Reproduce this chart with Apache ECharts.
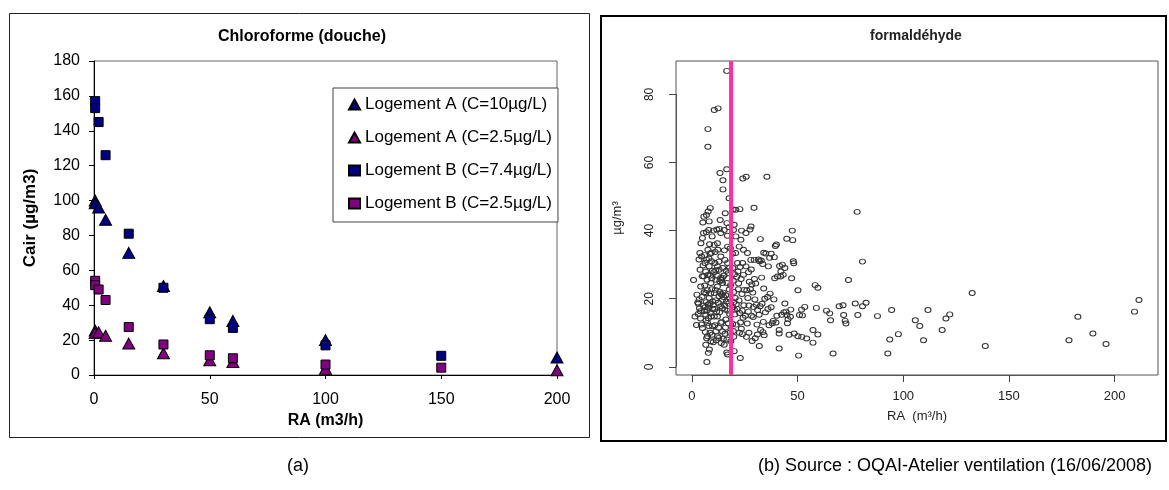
<!DOCTYPE html>
<html>
<head>
<meta charset="utf-8">
<script src="https://cdn.jsdelivr.net/npm/echarts@6/dist/echarts.min.js"></script>
<style>
  html, body { margin: 0; background: #fff; }
  #chart { width: 1169px; height: 490px; }
</style>
</head>
<body>
<div id="chart"></div>
<script>
// (a) Chloroforme (douche) : RA (m3/h) vs Cair (µg/m3)
var logementA10 = [[0.5, 100], [0.5, 98.5], [2, 96], [5, 89], [15, 70], [30, 51], [50, 36], [60, 31], [100, 20], [200, 10]];
var logementA25 = [[0.5, 25.5], [0.5, 24], [2, 24.5], [5, 22.5], [15, 18], [30, 12.5], [50, 8.5], [60, 7.5], [100, 3.5], [200, 2.7]];
var logementB74 = [[0.5, 157], [0.5, 153], [2, 145], [5, 126], [15, 81], [30, 50], [50, 32], [60, 27], [100, 17], [150, 11]];
var logementB25 = [[0.5, 54], [0.5, 51.5], [2, 49], [5, 43], [15, 27.5], [30, 17.5], [50, 11.3], [60, 9.6], [100, 6], [150, 4.2]];
var legendNames = ["Logement A (C=10µg/L)", "Logement A (C=2.5µg/L)", "Logement B (C=7.4µg/L)", "Logement B (C=2.5µg/L)"];

// (b) formaldéhyde : RA (m3/h) vs µg/m3
var formX0to5 = [[0.8,25.5],[1.5,14.8],[2.2,12.3],[2.4,21.2],[3.1,18.5],[3.5,19.8],[3.4,31.5],[3.8,33.4],[3.9,28.5],[4.2,23.6],[4.3,36.3],[4.6,32.4],[4.9,26.6],[5.0,37.8],[5.2,42.4],[5.5,39.3],[5.7,44.1],[4.0,16.3],[4.5,12.4],[5.0,11.4],[3.6,17.2],[4.8,20.5],[2.8,18.9],[3.0,15.5],[4.1,14.2],[5.3,29.8],[5.6,26.6],[5.4,18.0],[5.8,21.9],[5.9,16.4]];
var formX6to10 = [[6.2,30.5],[6.5,28.0],[6.6,21.7],[6.6,15.3],[6.6,6.5],[6.9,44.6],[7.0,31.4],[7.1,1.4],[7.2,25.6],[7.4,12.9],[7.4,9.0],[7.6,34.4],[7.7,18.3],[7.7,45.6],[7.8,4.1],[8.0,40.2],[8.2,42.7],[8.2,20.2],[8.2,29.5],[8.3,5.1],[8.7,33.2],[8.7,15.8],[8.7,46.6],[9.0,24.6],[9.0,7.5],[9.3,31.0],[9.8,19.2],[9.8,11.9],[9.6,38.3],[9.9,17.0],[6.3,17.5],[6.8,19.0],[7.3,16.6],[7.9,17.4],[8.5,18.6],[8.9,21.5],[9.4,22.8],[6.1,23.9],[7.5,27.0],[8.1,31.8],[9.2,33.5],[6.4,10.2],[7.0,8.4],[8.6,10.0],[9.5,9.4],[6.7,13.6],[7.8,14.3],[9.1,14.8],[6.0,32.8],[8.4,36.0],[9.7,28.2],[6.9,39.5],[7.3,22.5],[8.8,26.8],[9.4,26.0],[8.0,12.0],[7.6,69.8],[7.6,64.6]];
var formX10to18 = [[10.6,35.8],[10.6,21.7],[10.6,14.8],[10.9,30.5],[11.4,25.6],[11.4,10.4],[11.8,40.3],[12.1,29.5],[12.1,23.6],[12.1,14.8],[12.1,9.0],[12.1,36.3],[12.9,28.5],[12.9,20.7],[13.4,43.1],[13.7,26.1],[13.7,17.8],[13.7,12.9],[13.7,32.4],[13.7,39.3],[14.5,24.6],[14.5,19.7],[14.5,10.4],[14.5,26.2],[10.2,18.2],[10.8,17.0],[11.2,19.5],[11.7,16.2],[12.5,18.8],[13.1,16.0],[13.6,21.5],[14.2,21.2],[14.8,21.8],[10.4,27.8],[11.0,33.7],[12.3,34.4],[13.2,25.1],[14.0,25.5],[10.1,7.2],[11.5,7.8],[12.7,8.5],[13.9,7.0],[14.9,8.2],[10.9,12.2],[12.6,11.5],[14.1,13.2],[11.3,28.3],[12.8,30.9],[14.6,29.0],[13.0,40.5],[10.3,40.0],[11.1,22.6],[13.3,22.0],[14.4,17.2],[12.2,26.7],
  [15.3,40.2],[15.3,6.5],[15.6,31.4],[15.6,16.8],[15.8,45.1],[16.1,13.9],[16.6,42.2],[16.6,8.0],[16.6,24.6],[16.9,35.3],[16.9,30.5],[16.9,3.6],[17.2,27.5],[17.7,22.7],[15.0,20.5],[15.5,18.0],[16.0,21.0],[16.4,19.2],[17.0,16.5],[17.5,18.6],[18.0,20.0],[15.2,26.8],[16.3,28.2],[17.8,29.0],[18.2,34.8],[15.9,11.5],[17.3,12.8],[18.1,10.0],[17.6,41.0],[15.4,34.2],[16.8,38.5],[18.3,24.0],[17.9,15.5],[15.7,9.7],[16.5,4.2],[18.4,7.5],
  [16.5,86.9],[10.6,75.4],[12.4,75.9],[16.5,58.0],[13.3,56.9],[14.7,54.8],[14.7,52.1],[17.6,49.5]];
var formX18to35 = [[19.5,46.2],[19.7,40.2],[20.0,41.7],[20.0,4.6],[20.8,38.3],[20.8,46.1],[21.6,30.5],[22.4,35.3],[22.7,46.3],[22.9,2.6],[23.2,37.3],[23.5,40.0],[24.0,30.5],[24.4,34.4],[24.4,27.0],[24.1,55.3],[19.2,33.2],[19.4,29.0],[19.6,25.3],[19.8,22.0],[19.9,19.0],[20.1,16.8],[20.3,15.4],[19.3,12.6],[19.6,10.5],[19.8,8.8],[20.5,20.2],[21.0,18.4],[21.5,17.0],[22.0,22.8],[22.3,19.5],[22.6,15.8],[23.0,13.0],[23.4,11.2],[23.9,9.6],[21.2,26.4],[21.8,28.0],[22.1,24.5],[23.3,25.8],[23.7,21.4],[24.6,18.1],[24.8,22.6],[21.0,12.4],[22.5,10.0],[20.7,33.4],[23.8,16.5],[24.2,14.4],[20.2,27.2],[19.4,17.5],[22.8,29.3],
  [25.6,39.3],[25.6,29.5],[25.7,55.8],[26.3,33.4],[27.9,31.4],[29.5,31.4],[29.4,46.7],[27.5,40.3],[28.0,41.2],[26.8,27.8],[27.2,25.0],[28.1,28.6],[26.0,22.5],[26.5,20.2],[27.0,18.0],[28.4,24.2],[28.8,21.8],[29.2,17.6],[29.8,19.8],[30.5,18.2],[31.1,16.7],[31.8,15.3],[32.3,17.8],[30.2,24.5],[31.5,31.5],[32.0,31.0],[32.8,31.2],[33.5,30.2],[33.0,26.2],[34.0,23.0],[34.5,20.0],[34.8,16.0],[33.8,13.2],[32.5,10.8],[31.0,9.5],[30.0,8.4],[28.5,7.6],[27.0,10.0],[26.2,12.7],[25.3,15.0],[25.8,8.8],[31.9,6.1],[32.4,37.5],[29.0,14.6],[30.8,12.4],[33.6,10.2],[34.2,9.3],[26.7,16.2],[28.2,15.0],[29.6,25.8],[34.0,33.5],[35.0,33.3],[33.2,18.5],[27.7,22.8]];
var formX35to50 = [[35.5,55.8],[36.2,29.5],[36.8,32.0],[37.0,21.5],[37.5,17.5],[38.0,12.8],[38.5,13.5],[37.5,33.2],[39.5,35.5],[40.0,35.9],[39.0,32.2],[39.2,26.0],[40.5,26.5],[41.5,29.6],[42.1,28.0],[42.8,30.0],[43.2,27.0],[44.0,29.0],[42.0,26.5],[41.3,10.8],[41.3,9.8],[41.3,5.4],[44.0,18.6],[44.5,16.2],[45.0,15.2],[45.5,14.0],[45.2,12.8],[46.6,14.7],[44.9,37.6],[47.5,40.0],[47.7,37.2],[48.0,31.0],[48.2,30.4],[47.2,26.0],[48.4,9.8],[36.0,17.0],[38.8,19.8],[40.2,15.0],[42.5,15.3],[46.0,9.4],[35.8,20.5],[43.5,16.0],[46.8,16.8],[39.8,13.0],[36.5,12.2]];
var formX50plus = [[50.2,22.5],[58.3,24.0],[59.6,23.2],[50.9,15.2],[52.3,15.1],[53.4,17.6],[51.9,16.8],[58.9,17.3],[57.3,10.8],[59.6,9.5],[57.3,7.1],[54.3,8.3],[50.2,9.0],[52.0,8.8],[50.5,3.3],[63.7,16.5],[65.2,15.7],[65.6,13.7],[66.8,3.9],[69.7,17.8],[71.5,18.1],[71.8,15.2],[72.5,13.5],[72.9,12.7],[74.1,25.5],[77.3,18.6],[78.2,45.5],[78.5,15.2],[80.7,30.9],[80.7,17.8],[82.4,18.8],[87.8,14.9],[92.7,3.9],[93.6,8.0],[94.5,16.7],[97.7,9.6],[105.7,13.7],[107.8,12.0],[109.6,7.8],[111.7,16.7],[118.4,10.8],[120.2,14.2],[122.0,15.4],[132.6,21.7],[138.8,6.1],[178.4,7.8],[182.6,14.7],[189.7,9.8],[195.9,6.7],[209.4,16.2],[211.5,19.6]];
var formaldehyde = formX0to5.concat(formX6to10, formX10to18, formX18to35, formX35to50, formX50plus);
var seuilRA = 18.3;
// R-style axis: data range padded by 4%, ticks only at the rounded values
var formRangeX = [-7.5, 220.5];
var formRangeY = [-2.4, 89.8];
var formTicksX = [0, 200];   // first/last tick, step 50
var formTicksY = [0, 80];    // first/last tick, step 20

var FONT = "Liberation Sans, Arial, sans-serif";
var W = 1169, H = 490;
var plotB = { left: 676, right: 11, top: 61, bottom: 115 };

var chart = echarts.init(document.getElementById("chart"));
chart.setOption({
  animation: false,
  backgroundColor: "#fff",
  textStyle: { fontFamily: FONT },
  graphic: [
    { type: "rect", shape: { x: 9.5, y: 13.5, width: 580, height: 424 }, style: { fill: "none", stroke: "#222", lineWidth: 1 } },
    { type: "rect", shape: { x: 601, y: 16, width: 565, height: 425 }, style: { fill: "none", stroke: "#000", lineWidth: 2 } },
  ],
  title: [
    { text: "Chloroforme (douche)", left: 302, top: 29, padding: 0, textAlign: "center",
      textStyle: { fontFamily: FONT, fontSize: 16, fontWeight: "bold", color: "#000" } },
    { text: "formaldéhyde", left: 916, top: 29, padding: 0, textAlign: "center",
      textStyle: { fontFamily: FONT, fontSize: 14, fontWeight: "bold", color: "#222" } },
    { text: "(a)", left: 298, top: 457, padding: 0, textAlign: "center",
      textStyle: { fontFamily: FONT, fontSize: 18, fontWeight: "normal", color: "#000" } },
    { text: "(b) Source : OQAI-Atelier ventilation (16/06/2008)", left: 955, top: 457, padding: 0, textAlign: "center",
      textStyle: { fontFamily: FONT, fontSize: 18, fontWeight: "normal", color: "#000" } },
  ],
  legend: {
    data: legendNames,
    orient: "vertical",
    left: 333, top: 88,
    padding: [8, 6, 10, 15],
    itemGap: 16,
    itemWidth: 11, itemHeight: 10,
    backgroundColor: "#fff",
    borderColor: "#444", borderWidth: 1,
    textStyle: { fontFamily: FONT, fontSize: 17, color: "#000" },
  },
  grid: [
    { left: 94, right: 612, top: 61, bottom: 115, show: true, borderColor: "#666", borderWidth: 1, backgroundColor: "transparent" },
    { left: plotB.left, right: plotB.right, top: plotB.top, bottom: plotB.bottom, show: true, borderColor: "#555", borderWidth: 1, backgroundColor: "transparent" },
  ],
  xAxis: [
    { gridIndex: 0, type: "value", min: 0, max: 200, interval: 50,
      name: "RA (m3/h)", nameLocation: "middle", nameGap: 34,
      nameTextStyle: { fontFamily: FONT, fontSize: 16, fontWeight: "bold", color: "#000" },
      axisLine: { onZero: false, lineStyle: { color: "#000", width: 1 } },
      axisTick: { show: true, inside: false, length: 4, lineStyle: { color: "#000" } },
      axisLabel: { fontFamily: FONT, fontSize: 16, color: "#000", margin: 17 },
      splitLine: { show: false } },
    { gridIndex: 1, type: "value", min: formRangeX[0], max: formRangeX[1],
      name: "RA  (m³/h)", nameLocation: "middle", nameGap: 35,
      nameTextStyle: { fontFamily: FONT, fontSize: 13, color: "#222" },
      axisLine: { show: false, onZero: false },
      axisTick: { show: false }, axisLabel: { show: false },
      splitLine: { show: false } },
  ],
  yAxis: [
    { gridIndex: 0, type: "value", min: 0, max: 180, interval: 20,
      name: "Cair (µg/m3)", nameLocation: "middle", nameGap: 55,
      nameTextStyle: { fontFamily: FONT, fontSize: 17, fontWeight: "bold", color: "#000" },
      axisLine: { show: true, onZero: false, lineStyle: { color: "#000", width: 1 } },
      axisTick: { show: true, inside: false, length: 5, lineStyle: { color: "#000" } },
      axisLabel: { fontFamily: FONT, fontSize: 16, color: "#000", margin: 14 },
      splitLine: { show: false } },
    { gridIndex: 1, type: "value", min: formRangeY[0], max: formRangeY[1],
      name: "µg/m³", nameLocation: "middle", nameGap: 52,
      nameTextStyle: { fontFamily: FONT, fontSize: 13, color: "#222" },
      axisLine: { show: false, onZero: false },
      axisTick: { show: false }, axisLabel: { show: false },
      splitLine: { show: false } },
  ],
  series: [
    { name: legendNames[0], type: "scatter", xAxisIndex: 0, yAxisIndex: 0, data: logementA10,
      symbol: "triangle", symbolSize: [12, 11],
      itemStyle: { color: "#000080", borderColor: "#000", borderWidth: 1, opacity: 1 } },
    { name: legendNames[1], type: "scatter", xAxisIndex: 0, yAxisIndex: 0, data: logementA25,
      symbol: "triangle", symbolSize: [12, 11],
      itemStyle: { color: "#800080", borderColor: "#000", borderWidth: 1, opacity: 1 } },
    { name: legendNames[2], type: "scatter", xAxisIndex: 0, yAxisIndex: 0, data: logementB74,
      symbol: "rect", symbolSize: 9,
      itemStyle: { color: "#000080", borderColor: "#000", borderWidth: 1, opacity: 1 } },
    { name: legendNames[3], type: "scatter", xAxisIndex: 0, yAxisIndex: 0, data: logementB25,
      symbol: "rect", symbolSize: 9,
      itemStyle: { color: "#800080", borderColor: "#000", borderWidth: 1, opacity: 1 } },
    { name: "formaldéhyde", type: "scatter", xAxisIndex: 1, yAxisIndex: 1, data: formaldehyde,
      symbol: "circle", symbolSize: [6, 5],
      itemStyle: { color: "rgba(255,255,255,0)", borderColor: "#333", borderWidth: 1, opacity: 1 },
      markLine: {
        silent: true, symbol: ["none", "none"], label: { show: false },
        lineStyle: { color: "#ff3399", width: 4, type: "solid" },
        data: [{ xAxis: seuilRA }],
      } },
  ],
});

// tick axes for (b): a grid spanning exactly the tick range, read back from the plot's own scale
var x0 = chart.convertToPixel({ xAxisIndex: 1 }, formTicksX[0]);
var x1 = chart.convertToPixel({ xAxisIndex: 1 }, formTicksX[1]);
var y0 = chart.convertToPixel({ yAxisIndex: 1 }, formTicksY[0]);
var y1 = chart.convertToPixel({ yAxisIndex: 1 }, formTicksY[1]);
var plotBottomPx = H - plotB.bottom;

chart.setOption({
  grid: [{}, {}, { left: x0, right: W - x1, top: y1, bottom: H - y0, show: false }],
  xAxis: [{}, {}, {
    gridIndex: 2, type: "value", min: formTicksX[0], max: formTicksX[1], interval: 50,
    position: "bottom", offset: plotBottomPx - y0,
    axisLine: { show: true, onZero: false, lineStyle: { color: "#555", width: 1 } },
    axisTick: { show: true, inside: false, length: 7, lineStyle: { color: "#444", width: 1 } },
    axisLabel: { fontFamily: FONT, fontSize: 13, color: "#222", margin: 15 },
    splitLine: { show: false } }],
  yAxis: [{}, {}, {
    gridIndex: 2, type: "value", min: formTicksY[0], max: formTicksY[1], interval: 20,
    position: "left", offset: x0 - plotB.left,
    axisLine: { show: true, onZero: false, lineStyle: { color: "#555", width: 1 } },
    axisTick: { show: true, inside: false, length: 7, lineStyle: { color: "#444", width: 1 } },
    axisLabel: { fontFamily: FONT, fontSize: 12, color: "#222", margin: 20, rotate: 90 },
    splitLine: { show: false } }],
});
</script>
</body>
</html>
